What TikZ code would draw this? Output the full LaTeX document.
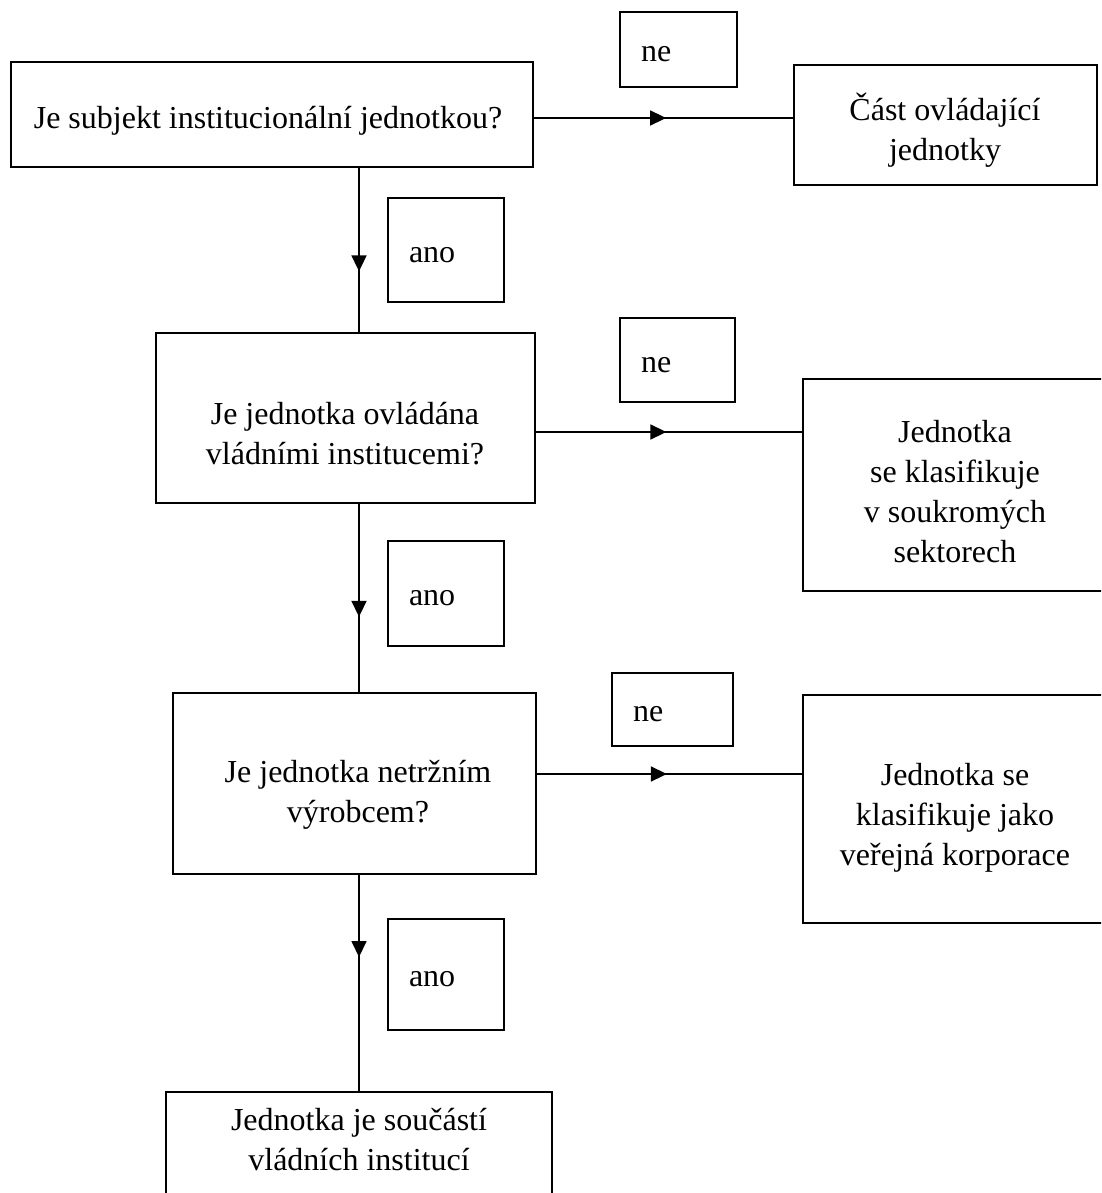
\documentclass[tikz,border=0pt]{standalone}
\usepackage{fontspec}
\setmainfont{Liberation Serif}
\usetikzlibrary{arrows.meta,decorations.markings}

\tikzset{
  base/.style={font=\fontsize{32}{40}\selectfont},
  frame/.style={draw, line width=1.6pt, inner sep=0pt},
  caption/.style={base, align=center, inner sep=0pt},
  tag/.style={base, draw, line width=1.6pt, inner sep=0pt, inner xsep=21pt, align=left,
    text height=24pt, text depth=0pt},
  flow/.style={line width=1.6pt, postaction={decorate},
    decoration={markings, mark=at position #1 with {\arrow{Triangle[length=16pt,width=15pt]}}}}
}

\begin{document}
\begin{tikzpicture}[x=1pt, y=-1pt]
  \useasboundingbox (0,0) rectangle (1101,1193);
  \clip (0,0) rectangle (1101,1193);

  % question boxes (left column)
  \node[frame, minimum width=522pt, minimum height=105pt] (q1) at (272,114.5) {};
  \node[frame, minimum width=379pt, minimum height=170pt] (q2) at (345.5,418) {};
  \node[frame, minimum width=363pt, minimum height=181pt] (q3) at (354.5,783.5) {};
  \node[frame, minimum width=386pt, minimum height=108pt] (q4) at (359,1146) {};

  % outcome boxes (right column)
  \node[frame, minimum width=303pt, minimum height=120pt] (r1) at (945.5,125) {};
  \node[frame, minimum width=317pt, minimum height=212pt] (r2) at (961.5,485) {};
  \node[frame, minimum width=317pt, minimum height=228pt] (r3) at (961.5,809) {};

  % texts
  \node[caption] (tq1) at (268,121) {Je subjekt institucionální jednotkou?};
  \node[caption] (tq2) at (345,434) {Je jednotka ovládána\\vládními institucemi?};
  \node[caption] (tq3) at (358,795) {Je jednotka netržním\\výrobcem?};
  \node[caption] (tq4) at (359,1140) {Jednotka je součástí\\vládních institucí};
  \node[caption] (tr1) at (945,130) {Část ovládající\\jednotky};
  \node[caption] (tr2) at (955,492) {Jednotka\\se klasifikuje\\v soukromých\\sektorech};
  \node[caption] (tr3) at (955,818) {Jednotka se\\klasifikuje jako\\veřejná korporace};

  % answer tags
  \node[tag, minimum width=117pt, minimum height=75pt, text width=75pt] (ne1) at (678.5,49.5) {ne};
  \node[tag, minimum width=115pt, minimum height=84pt, text width=73pt] (ne2) at (677.5,360) {ne};
  \node[tag, minimum width=121pt, minimum height=73pt, text width=79pt] (ne3) at (672.5,709.5) {ne};
  \node[tag, minimum width=116pt, minimum height=104pt, text width=74pt] (ano1) at (446,250) {ano};
  \node[tag, minimum width=116pt, minimum height=105pt, text width=74pt] (ano2) at (446,593.5) {ano};
  \node[tag, minimum width=116pt, minimum height=111pt, text width=74pt] (ano3) at (446,974.5) {ano};

  % guide coordinates for the connectors
  \coordinate (v) at (359,0);
  \coordinate (h1) at (0,118);
  \coordinate (h2) at (0,432);
  \coordinate (h3) at (0,774);

  % "ano" connectors
  \draw[flow=0.63] (q1.south -| v) -- (q2.north -| v);
  \draw[flow=0.60] (q2.south -| v) -- (q3.north -| v);
  \draw[flow=0.38] (q3.south -| v) -- (q4.north -| v);

  % "ne" connectors
  \draw[flow=0.51] (q1.east |- h1) -- (r1.west |- h1);
  \draw[flow=0.49] (q2.east |- h2) -- (r2.west |- h2);
  \draw[flow=0.49] (q3.east |- h3) -- (r3.west |- h3);
\end{tikzpicture}
\end{document}
